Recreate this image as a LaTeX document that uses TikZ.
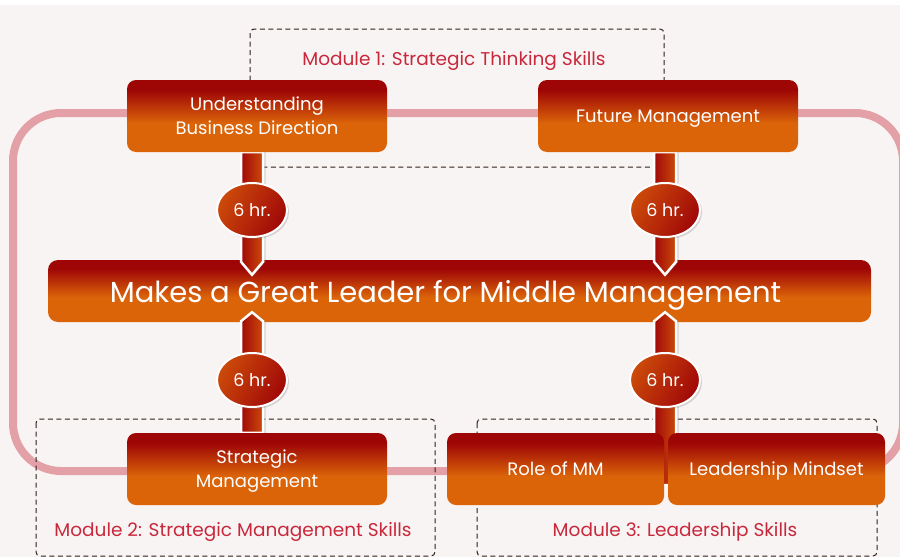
\documentclass[tikz,border=0pt]{standalone}
\usepackage{fontspec}
\setmainfont{Poppins}
\usetikzlibrary{positioning,calc,shapes.geometric,shadows}

\definecolor{pagebg}{HTML}{F9F4F4}
\definecolor{loopcol}{HTML}{E3A1A7}
\definecolor{boxtop}{HTML}{9E0606}
\definecolor{boxbot}{HTML}{DB6409}
\definecolor{barleft}{HTML}{A00808}
\definecolor{barright}{HTML}{CC4A0A}
\definecolor{modred}{HTML}{C8283C}
\definecolor{framecol}{HTML}{2E2018}

\pgfdeclareverticalshading{boxshade}{100bp}{color(0bp)=(boxbot); color(45bp)=(boxbot); color(68bp)=(boxtop); color(100bp)=(boxtop)}

\pgfdeclarelayer{background}
\pgfdeclarelayer{mid}
\pgfsetlayers{background,mid,main}

\tikzset{
  loopline/.style={draw=loopcol, line width=8pt},
  modframe/.style={draw=framecol, line width=1pt, dash pattern=on 5pt off 3.5pt, rounded corners=4pt},
  modlabel/.style={text=modred, font=\fontsize{18.5}{22}\selectfont},
  box/.style={shading=boxshade, rounded corners=9pt, text=white, align=center,
    minimum width=260pt, minimum height=72pt, inner sep=0pt, text depth=0pt,
    font=\fontsize{18}{24}\selectfont},
  bigbox/.style={box, minimum width=823pt, minimum height=62pt, rounded corners=10pt,
    font=\fontsize{29}{32}\selectfont},
  hrs/.style={ellipse, draw=white, line width=2pt, left color=barright, right color=barleft,
    shading angle=60, minimum width=70pt, minimum height=54pt, inner sep=0pt,
    text=white, font=\fontsize{17.5}{20}\selectfont,
    drop shadow={shadow xshift=2pt, shadow yshift=-2pt, opacity=0.3}},
  hrbar/.style={left color=barleft, right color=barright, draw=white, line width=2.5pt,
    drop shadow={shadow xshift=2.5pt, shadow yshift=0pt, opacity=0.3}},
}

\begin{document}
\begin{tikzpicture}[x=1pt,y=-1pt]
\useasboundingbox (0,0) rectangle (900,557);

\begin{pgfonlayer}{background}
  \fill[pagebg] (0,5) rectangle (900,557);
  \draw[loopline, rounded corners=48pt] (13,113) rectangle (903,471);
  % module frames
  \draw[modframe] (250,29) rectangle (664,167);
  \draw[modframe] (36,419) rectangle (435,556);
  \draw[modframe] (477,419) rectangle (877,556);
  \node[modlabel] (mod1) at (454,61) {Module 1: Strategic Thinking Skills};
  \node[modlabel] (mod2) at (233,532) {Module 2: Strategic Management Skills};
  \node[modlabel] (mod3) at (675,532) {Module 3: Leadership Skills};
  \node[bigbox] (main) at (459.5,291) {\kern-28pt Makes a Great Leader for Middle Management};
\end{pgfonlayer}

% topic boxes
\node[box] (ubd) at (257,116) {Understanding\\Business Direction};
\node[box] (fm) at (668,116) {Future Management};
\node[box] (sm) at (257,469) {Strategic\\Management};
\node[box, minimum width=217pt] (rmm) at (555.5,469) {Role of MM};
\node[box, minimum width=217pt] (lm) at (776.5,469) {Leadership Mindset};

% hours
\node[hrs] (hr1) at (252,210) {6 hr.};
\node[hrs] (hr2) at (665,210) {6 hr.};
\node[hrs] (hr3) at (252,380) {6 hr.};
\node[hrs] (hr4) at (665,380) {6 hr.};

\begin{pgfonlayer}{mid}
  \path[hrbar] ([xshift=-11pt]hr1 |- ubd.south) -- ([xshift=-11pt,yshift=-2pt]hr1 |- main.north)
    -- ([yshift=-15pt]hr1 |- main.north) -- ([xshift=11pt,yshift=-2pt]hr1 |- main.north)
    -- ([xshift=11pt]hr1 |- ubd.south) -- cycle;
  \path[hrbar] ([xshift=-11pt]hr2 |- fm.south) -- ([xshift=-11pt,yshift=-2pt]hr2 |- main.north)
    -- ([yshift=-15pt]hr2 |- main.north) -- ([xshift=11pt,yshift=-2pt]hr2 |- main.north)
    -- ([xshift=11pt]hr2 |- fm.south) -- cycle;
  \path[hrbar] ([xshift=-11pt]hr3 |- sm.north) -- ([xshift=-11pt,yshift=1pt]hr3 |- main.south)
    -- ([yshift=10pt]hr3 |- main.south) -- ([xshift=11pt,yshift=1pt]hr3 |- main.south)
    -- ([xshift=11pt]hr3 |- sm.north) -- cycle;
  \path[hrbar] ([xshift=-11pt,yshift=-16pt]hr4 |- rmm.center) -- ([xshift=-11pt,yshift=1pt]hr4 |- main.south)
    -- ([yshift=10pt]hr4 |- main.south) -- ([xshift=11pt,yshift=1pt]hr4 |- main.south)
    -- ([xshift=11pt,yshift=-16pt]hr4 |- rmm.center) -- cycle;
\end{pgfonlayer}
\end{tikzpicture}
\end{document}
